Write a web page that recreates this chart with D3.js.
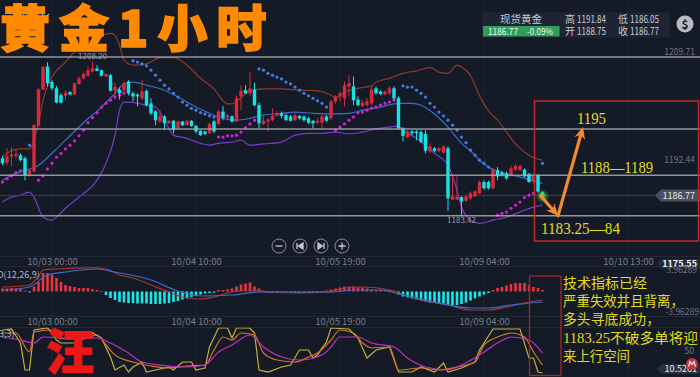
<!DOCTYPE html>
<html><head><meta charset="utf-8">
<script src="https://cdn.jsdelivr.net/npm/d3@7"></script>
<style>html,body{margin:0;padding:0;background:#151a27;}svg{display:block}</style>
</head><body><svg id="c" width="700" height="377"></svg>
<script>
// ---------- DATA ----------
const openP  = [1192.7,1192.0,1193.0,1193.1,1193.2,1192.7,1189.9,1190.6,1197.9,1203.7,1207.4,1204.9,1203.9,1202.8,1202.7,1203.3,1202.9,1204.6,1205.5,1205.9,1206.6,1207.1,1206.8,1205.8,1206.0,1203.5,1203.7,1203.6,1205.0,1203.1,1202.9,1202.3,1203.5,1201.5,1200.2,1198.6,1199.4,1198.3,1198.7,1197.5,1198.6,1198.0,1198.7,1197.9,1197.1,1197.0,1196.7,1198.6,1198.2,1200.2,1199.2,1199.4,1198.6,1202.6,1203.6,1203.1,1203.7,1201.2,1198.2,1198.6,1198.8,1199.5,1199.9,1199.6,1199.4,1198.8,1199.5,1199.4,1199.1,1198.7,1198.4,1198.4,1199.4,1199.1,1201.8,1202.6,1202.3,1204.2,1204.2,1202.1,1201.1,1201.2,1201.5,1203.9,1203.4,1202.9,1203.1,1203.9,1202.3,1197.5,1196.1,1197.0,1197.0,1196.9,1196.6,1193.8,1194.3,1193.9,1193.6,1194.3,1186.1,1186.1,1186.5,1185.9,1186.3,1186.6,1187.1,1188.9,1188.9,1187.9,1190.8,1190.4,1190.3,1190.0,1190.9,1190.8,1190.9,1190.2,1188.9,1190.0,1187.3];
const highP  = [1193.1,1194.3,1194.5,1194.1,1193.5,1193.0,1191.0,1198.2,1203.9,1207.5,1208.1,1205.2,1204.3,1203.1,1203.6,1203.4,1204.8,1205.8,1206.4,1207.4,1208.2,1207.6,1206.9,1206.3,1206.2,1204.8,1204.1,1205.0,1205.2,1203.4,1203.1,1205.2,1203.7,1202.3,1200.4,1200.4,1199.6,1198.9,1198.8,1198.7,1198.7,1198.8,1198.8,1198.0,1197.2,1197.1,1198.4,1198.8,1200.4,1201.1,1199.8,1199.6,1202.7,1204.4,1204.4,1206.6,1204.8,1201.6,1199.4,1199.1,1200.7,1200.2,1200.2,1199.9,1199.6,1199.9,1199.6,1199.5,1199.3,1198.8,1199.1,1199.6,1199.6,1202.0,1202.8,1203.4,1205.0,1206.0,1205.8,1202.6,1202.0,1202.3,1204.1,1204.2,1203.6,1203.6,1204.2,1204.2,1202.6,1197.7,1197.2,1197.2,1197.2,1197.2,1197.2,1195.1,1194.5,1194.5,1194.8,1194.6,1189.8,1189.8,1186.6,1186.8,1187.4,1187.6,1189.2,1189.2,1189.1,1191.1,1191.3,1190.7,1190.6,1191.6,1191.8,1191.6,1191.1,1190.4,1190.3,1190.2,1187.5];
const lowP   = [1191.6,1191.6,1191.4,1192.7,1192.2,1189.2,1189.7,1190.4,1197.8,1203.6,1204.2,1203.6,1201.5,1201.5,1202.1,1202.8,1202.8,1204.5,1205.4,1205.8,1206.4,1206.6,1205.8,1205.7,1203.4,1202.6,1202.1,1203.1,1202.8,1201.8,1201.0,1202.0,1201.0,1199.6,1198.0,1198.3,1197.2,1198.2,1196.7,1197.3,1197.8,1197.9,1197.7,1196.7,1196.3,1196.4,1196.6,1196.7,1198.0,1198.8,1199.0,1198.4,1198.5,1200.4,1203.0,1202.6,1201.0,1197.5,1198.0,1197.0,1198.6,1199.4,1199.1,1198.7,1198.6,1198.7,1198.9,1198.6,1198.2,1197.5,1198.2,1197.5,1198.6,1198.8,1201.5,1201.8,1201.0,1202.6,1201.2,1201.0,1200.9,1201.0,1201.2,1202.9,1202.8,1202.8,1202.8,1202.1,1197.3,1195.4,1195.9,1196.4,1195.6,1195.1,1193.5,1193.5,1193.7,1193.7,1193.5,1184.3,1186.0,1186.0,1183.42,1185.7,1186.1,1186.5,1187.0,1187.7,1187.7,1187.7,1189.2,1189.8,1189.3,1189.8,1190.6,1190.7,1189.7,1188.8,1188.7,1187.2,1186.05];
const closeP = [1191.9,1193.0,1193.3,1193.4,1192.4,1190.0,1190.8,1198.0,1203.7,1207.3,1204.7,1203.9,1201.6,1201.6,1203.2,1202.9,1204.7,1205.5,1206.2,1206.8,1207.1,1206.7,1205.9,1206.2,1203.5,1204.1,1203.1,1204.7,1203.1,1202.6,1202.6,1203.4,1201.2,1199.9,1198.8,1199.4,1198.3,1198.7,1197.2,1198.6,1198.0,1198.7,1197.9,1197.0,1196.4,1196.6,1198.2,1197.0,1200.2,1199.2,1199.6,1198.6,1202.3,1203.5,1203.1,1203.9,1201.2,1198.3,1198.7,1198.9,1199.5,1199.9,1199.5,1198.8,1198.7,1199.6,1199.1,1198.8,1198.4,1198.3,1198.7,1199.4,1198.7,1201.8,1202.6,1203.1,1204.4,1204.7,1202.0,1201.2,1201.6,1201.8,1203.7,1203.1,1203.0,1203.4,1203.9,1202.3,1197.5,1196.3,1197.0,1196.7,1196.7,1195.3,1193.9,1194.6,1193.9,1194.3,1194.6,1186.3,1186.6,1186.6,1185.8,1186.6,1187.1,1187.4,1188.9,1187.9,1187.9,1190.9,1189.8,1190.0,1189.5,1191.1,1191.5,1191.5,1189.8,1188.9,1190.0,1187.4,1186.77];
const sarP   = [1188.9,1189.4,1189.9,1190.4,1190.7,1191.1,1194.8,1194.7,1189.2,1189.9,1191.0,1191.9,1192.9,1193.5,1194.2,1194.8,1195.5,1196.3,1197.2,1198.4,1199.2,1200.0,1200.9,1201.5,1202.0,1202.5,1202.8,1203.1,1203.3,1208.3,1208.1,1207.8,1207.5,1206.8,1206.0,1205.2,1204.4,1203.8,1203.1,1202.5,1201.7,1201.2,1200.7,1200.4,1200.0,1199.8,1199.5,1199.3,1196.1,1196.1,1196.3,1196.3,1196.4,1196.9,1197.6,1198.2,1198.8,1207.0,1206.8,1206.3,1206.0,1205.7,1205.4,1204.9,1204.6,1204.1,1203.6,1203.1,1202.7,1202.3,1201.9,1201.5,1200.9,1200.6,1197.2,1197.7,1198.2,1198.8,1199.3,1200.0,1200.1,1200.4,1200.7,1200.9,1201.2,1201.5,1201.7,1202.0,1202.2,1204.3,1204.1,1204.1,1203.6,1203.1,1202.5,1201.5,1200.9,1200.1,1199.5,1198.8,1198.0,1197.2,1196.1,1195.2,1194.0,1193.2,1192.4,1191.9,1191.3,1190.8,1183.6,1183.9,1184.1,1184.7,1185.2,1185.7,1186.4,1186.8,1187.1,1187.6,1191.9];

const upperIdx = [0,1,4,6,7,8,9,11,14,16,18,21,24,25,26,27,29,32,35,38,41,44,47,50,51,53,55,58,62,66,70,73,74,76,79,82,83,86,89,92,95,97,99,101,102,104,105,106,108,110,112,114,116,118,120];
const upperVal = [1192.8,1193.5,1194.2,1194.2,1195.6,1198.4,1202.0,1205.7,1208.1,1209.7,1210.8,1212.1,1212.7,1212.4,1210.8,1208.4,1207.6,1207.8,1208.8,1208.8,1207.6,1205.5,1203.8,1201.4,1201.4,1202.4,1203.5,1203.8,1203.8,1203.6,1203.5,1202.8,1202.4,1203.3,1203.9,1204.3,1204.9,1205.5,1206.3,1206.7,1207.2,1206.5,1206.3,1207.6,1207.3,1205.9,1204.4,1202.7,1200.3,1198.8,1196.9,1195.0,1193.7,1192.8,1192.4];
const midIdx = [0,2,6,8,11,14,18,22,25,27,29,32,36,39,43,46,49,52,55,58,62,65,69,73,77,80,84,88,91,93,96,99,102,104,106,108,111,115,119,120];
const midVal = [1189.2,1190.0,1191.0,1191.6,1193.5,1195.6,1198.4,1200.9,1203.1,1204.6,1204.9,1204.4,1203.6,1202.5,1200.9,1199.9,1199.1,1198.8,1199.1,1199.6,1199.9,1200.1,1199.9,1199.8,1199.9,1200.4,1200.9,1201.5,1201.5,1201.2,1199.8,1197.7,1195.1,1193.9,1192.4,1191.3,1190.4,1189.7,1188.9,1188.7];
const lowIdx = [0,2,4,6,7,9,11,12,14,17,21,23,25,26,27,28,32,34,36,38,41,44,46,48,51,53,55,58,62,65,68,71,74,77,80,83,86,88,89,92,94,96,99,101,102,104,106,109,112,115,118,120];
const lowVal = [1185.7,1186.5,1186.8,1187.3,1186.5,1183.3,1182.8,1183.3,1184.7,1186.5,1189.2,1191.9,1196.4,1200.4,1201.7,1201.7,1201.2,1200.9,1198.8,1196.4,1195.9,1195.1,1194.8,1195.1,1195.3,1195.6,1194.8,1195.0,1195.3,1196.4,1196.7,1196.7,1196.9,1196.6,1196.9,1197.4,1197.7,1197.9,1197.2,1195.9,1194.8,1193.5,1191.6,1187.6,1184.9,1182.8,1182.3,1182.8,1183.3,1184.1,1184.9,1185.2];

const macdHist = [0.58,0.58,0.68,0.58,0.48,0.19,-0.19,0.97,1.84,3.58,3.58,3.19,2.61,1.84,1.26,1.06,0.87,0.68,0.68,0.68,0.48,0.29,0.10,-0.68,-1.26,-1.64,-2.03,-2.13,-2.22,-2.22,-2.32,-2.32,-2.32,-2.42,-2.42,-2.42,-2.32,-2.22,-2.03,-1.84,-1.55,-1.35,-1.06,-0.77,-0.58,-0.39,-0.29,-0.19,0.29,0.29,0.39,0.58,0.97,1.35,1.55,1.74,0.97,0.58,0.19,-0.19,-0.19,-0.19,-0.10,-0.10,-0.19,-0.19,-0.19,-0.19,-0.19,-0.10,-0.10,0.10,0.19,0.39,0.58,0.77,0.97,0.97,0.97,0.77,0.77,0.58,0.39,0.29,0.29,0.29,0.29,0.19,-0.58,-0.97,-1.16,-1.35,-1.55,-1.74,-1.93,-2.13,-2.13,-2.32,-2.51,-2.61,-2.61,-2.61,-2.42,-2.13,-1.74,-1.35,-0.97,-0.58,-0.29,0.29,0.68,0.87,1.16,1.45,1.64,1.64,1.64,1.26,0.87,0.68,0.29];
const difIdx = [0,6,8,9,12,20,23,26,29,33,37,40,44,47,51,55,59,66,72,76,80,86,90,93,99,104,108,112,117,120];
const difVal = [0.87,1.26,3.00,4.16,4.35,4.55,4.35,3.19,2.61,1.26,-0.10,-1.06,-1.45,-1.06,-0.10,0.29,-0.10,-0.29,-0.10,0.68,0.87,0.29,-0.87,-1.64,-2.61,-3.58,-3.58,-3.00,-2.03,-1.64];
const deaIdx = [0,6,10,14,21,25,33,39,44,51,57,66,73,78,84,89,97,104,108,113,120];
const deaVal = [0.29,0.87,3.19,3.77,4.35,3.77,2.22,0.10,-0.87,-0.68,-0.10,-0.10,-0.10,0.29,0.29,-0.68,-2.22,-3.19,-3.19,-2.61,-2.03];

const kIdx = [0,3,6,7,11,12,14,18,21,23,25,29,33,37,41,45,47,49,51,53,56,58,61,65,68,70,73,75,78,80,82,86,88,93,97,101,105,107,110,113,116,118,120];
const kVal = [88.9,88.9,46.7,91.1,95.6,80.0,75.6,75.6,84.4,62.2,40.0,24.4,15.6,11.1,15.6,17.8,51.1,80.0,73.3,88.9,84.4,44.4,28.9,24.4,35.6,44.4,73.3,95.6,88.9,66.7,55.6,57.8,6.7,11.1,6.7,13.3,24.4,62.2,80.0,88.9,80.0,46.7,17.8];
const dIdx = [0,4,7,9,14,21,24,28,31,37,41,45,48,51,55,58,62,66,71,73,75,79,82,87,90,94,99,102,106,110,113,117,120];
const dVal = [80.0,73.3,66.7,80.0,77.8,77.8,66.7,44.4,24.4,15.6,13.3,17.8,46.7,62.2,84.4,57.8,35.6,28.9,40.0,57.8,80.0,80.0,66.7,57.8,33.3,13.3,6.7,17.8,40.0,66.7,80.0,73.3,44.4];
const jIdx = [0,2,4,5,6,7,10,11,12,13,16,18,20,22,24,25,27,28,29,31,32,34,37,38,40,42,43,45,46,48,50,51,52,55,56,57,59,62,64,66,68,69,70,71,72,73,77,79,81,83,86,88,91,93,96,98,99,102,105,106,109,115,117,118,119,120];
const jVal = [95.6,97.8,66.7,6.7,6.7,95.6,100,88.9,73.3,66.7,66.7,77.8,88.9,77.8,35.6,6.7,17.8,2.2,13.3,24.4,2.2,6.7,13.3,6.7,24.4,24.4,6.7,11.1,57.8,100,100,77.8,100,100,88.9,6.7,2.2,13.3,17.8,51.1,51.1,33.3,40.0,55.6,68.9,100,97.8,77.8,33.3,51.1,57.8,2.2,2.2,13.3,2.2,22.2,2.2,11.1,24.4,51.1,97.8,97.8,33.3,33.3,2.2,0];

const tickIdx = [11,43,75,107,139];
const tickLabels = ["10/03 00:00","10/04 10:00","10/05 19:00","10/09 04:00","10/10 13:00"];
const levelLines = [1208.9,1197.4,1190.0,1183.5];
const targetPrices = {down:1183.5, up:1197.7};
const title = "黄金1小时";
const author = "汪";
const noteLabels = ["1195","1188—1189","1183.25—84"];
const noteLines = ["技术指标已经","严重失效并且背离，","多头寻底成功，","1183.25不破多单将迎","来上行空间"];
const quote = {name:"现货黄金", last:"1186.77", chg:"-0.09%", high:"1191.84", low:"1186.05", open:"1188.75", close:"1186.77"};
const axisPrices = {top:1209.71, mid:1192.44, bottom:1175.55, last:1186.77, lowMark:1183.42};
const macdRange = 3.96289, kdjLast = "10.5261";

// ---------- SCALES ----------
const svg = d3.select('#c');
const N = closeP.length;
const x = d3.scaleLinear().domain([0,120]).range([2.5,542.5]);
const y = d3.scaleLinear().domain([1175.55,1209.71]).range([265.5,52]);
const yM = d3.scaleLinear().domain([-macdRange,macdRange]).range([312,271]);
const yK = d3.scaleLinear().domain([0,100]).range([373,328]);
const UP='#d8293e', DN='#14e4e6';
const SANS = "'Noto Sans CJK SC','Noto Sans',sans-serif";
const SERIF = "'Liberation Serif','DejaVu Serif','Noto Sans CJK SC',serif";

svg.append('rect').attr('width',700).attr('height',377).attr('fill','#151a27');
const defs = svg.append('defs');
[['cm',0,0,700,256],['cmacd',0,266,700,50],['ckdj',0,327.5,700,50]].forEach(c=>{
  defs.append('clipPath').attr('id',c[0]).append('rect').attr('x',c[1]).attr('y',c[2]).attr('width',c[3]).attr('height',c[4]);
});
const glow = defs.append('radialGradient').attr('id','glow');
glow.append('stop').attr('offset','0%').attr('stop-color','#5dff7a').attr('stop-opacity',0.8);
glow.append('stop').attr('offset','100%').attr('stop-color','#2bd04a').attr('stop-opacity',0);

// grid
const grid = svg.append('g');
tickIdx.forEach(t=>{
  grid.append('line').attr('x1',x(t)).attr('x2',x(t)).attr('y1',0).attr('y2',377).attr('stroke','#1f2433').attr('stroke-width',1);
});
[256,266,316,327].forEach(v=>grid.append('line').attr('x1',0).attr('x2',700).attr('y1',v+0.5).attr('y2',v+0.5).attr('stroke','#232838'));

// info panel
const info = svg.append('g').style('font-family',SANS);
info.append('rect').attr('x',482).attr('y',12.5).attr('width',188).attr('height',25).attr('fill','#1e2432');
info.append('text').attr('x',521).attr('y',22.5).attr('text-anchor','middle').attr('fill','#c6cad3').attr('font-size',10.5).text(quote.name);
info.append('rect').attr('x',483).attr('y',26).attr('width',76.5).attr('height',10.5).attr('fill','#2f9e5c');
info.append('text').attr('x',488).attr('y',34.8).attr('fill','#eef5ef').attr('font-size',9.5).attr('textLength',30).attr('lengthAdjust','spacingAndGlyphs').text(quote.last);
info.append('text').attr('x',527).attr('y',34.8).attr('fill','#eef5ef').attr('font-size',9.5).attr('textLength',26).attr('lengthAdjust','spacingAndGlyphs').text(quote.chg);
[['高',quote.high,565,23],['开',quote.open,565,35],['低',quote.low,618,23],['收',quote.close,618,35]].forEach(a=>{
  info.append('text').attr('x',a[2]).attr('y',a[3]).attr('fill','#c6cad3').attr('font-size',10).text(a[0]);
  info.append('text').attr('x',a[2]+12).attr('y',a[3]).attr('fill','#c6cad3').attr('font-size',10).attr('textLength',29).attr('lengthAdjust','spacingAndGlyphs').text(a[1]);
});
info.append('circle').attr('cx',685).attr('cy',24).attr('r',8.5).attr('fill','#b8bbc3');
info.append('text').attr('x',685).attr('y',28.5).attr('text-anchor','middle').attr('fill','#1b2030').attr('font-size',12).attr('font-weight','bold').text('$');
svg.append('text').attr('x',12).attr('y',20).attr('fill','#c6cad3').attr('font-size',11).style('font-family',SANS).text('1小时');
svg.append('path').attr('d','M42,14 l3.5,3.5 l3.5,-3.5').attr('fill','none').attr('stroke','#aab0bb').attr('stroke-width',1.2);

// ---------- MAIN PANE ----------
const main = svg.append('g').attr('clip-path','url(#cm)');
const lineGen = (ys, curve)=>d3.line().x(d=>x(d[0])).y(d=>ys(d[1])).curve(curve||d3.curveMonotoneX);
const band = (idx,val,color)=>main.append('path').attr('d',lineGen(y)(idx.map((k,i)=>[k,val[i]]))).attr('fill','none').attr('stroke',color).attr('stroke-width',1.2);
band(upperIdx,upperVal,'#8e3a2c');
band(midIdx,midVal,'#3a6ccc');
band(lowIdx,lowVal,'#7a3cc6');

main.append('line').attr('x1',0).attr('x2',656).attr('y1',y(axisPrices.last)).attr('y2',y(axisPrices.last)).attr('stroke','#3a404f').attr('stroke-width',1);

main.selectAll('circle.sar').data(sarP).join('circle').attr('class','sar')
  .attr('cx',(d,i)=>x(i)).attr('cy',d=>y(d)).attr('r',1.6)
  .attr('fill',(d,i)=> d > (highP[i]+lowP[i])/2 ? '#3f7de0' : '#d41fd6');

const cg = main.append('g');
d3.range(N).forEach(i=>{
  const o=openP[i], c=closeP[i];
  const col = i===N-1 ? '#3ed46c' : (c>=o ? UP : DN);
  if(i===N-1) cg.append('circle').attr('cx',x(i)).attr('cy',y(c)+1).attr('r',7).attr('fill','url(#glow)');
  cg.append('line').attr('x1',x(i)).attr('x2',x(i)).attr('y1',y(highP[i])).attr('y2',y(lowP[i])).attr('stroke',col).attr('stroke-width',1);
  const top=y(Math.max(o,c)), bot=y(Math.min(o,c));
  cg.append('rect').attr('x',x(i)-1.7).attr('width',3.4).attr('y',top).attr('height',Math.max(1,bot-top)).attr('fill',col);
});

levelLines.forEach(p=>svg.append('line').attr('x1',0).attr('x2',700).attr('y1',y(p)).attr('y2',y(p))
  .attr('stroke','#a9abb1').attr('stroke-width',1.6).attr('opacity',0.85));

svg.append('text').attr('x',x(102)).attr('y',y(axisPrices.lowMark)+7).attr('text-anchor','middle').attr('fill','#9a9ea8').attr('font-size',8).style('font-family',SANS).text(axisPrices.lowMark.toFixed(2));
const hiIdx = d3.maxIndex(highP);
svg.append('text').attr('x',x(hiIdx)).attr('y',y(highP[hiIdx])-2).attr('text-anchor','middle').attr('fill','#9a9ea8').attr('font-size',8).style('font-family',SANS).text(d3.max(highP).toFixed(2));

const rl = svg.append('g').style('font-family',SANS);
rl.append('text').attr('x',695).attr('y',y(axisPrices.top)+3).attr('text-anchor','end').attr('fill','#6f7482').attr('font-size',8.5).text(axisPrices.top.toFixed(2));
rl.append('text').attr('x',695).attr('y',y(axisPrices.mid)+3).attr('text-anchor','end').attr('fill','#6f7482').attr('font-size',8.5).text(axisPrices.mid.toFixed(2));
const ly = y(axisPrices.last);
rl.append('path').attr('d',`M655,${ly} L661,${ly-6} L700,${ly-6} L700,${ly+6} L661,${ly+6} Z`).attr('fill','#4a505e');
rl.append('text').attr('x',695).attr('y',ly+3.2).attr('text-anchor','end').attr('fill','#e6e8ec').attr('font-size',9).text(axisPrices.last.toFixed(2));

const zb = svg.append('g');
[279,300,321,342].forEach((cx,i)=>{
  zb.append('circle').attr('cx',cx).attr('cy',246).attr('r',7).attr('fill','#171c29').attr('stroke','#8b8f99').attr('stroke-width',1);
  const p = ['M-3.5,0 H3.5','M-3,-3 V3 M3,-3 L-1.5,0 L3,3 Z','M3,-3 V3 M-3,-3 L1.5,0 L-3,3 Z','M-3.5,0 H3.5 M0,-3.5 V3.5'][i];
  zb.append('path').attr('transform',`translate(${cx},246)`).attr('d',p).attr('stroke','#c3c7cf').attr('stroke-width',1.3).attr('fill','#c3c7cf');
});

function timeAxis(yPos, n){
  const g = svg.append('g').attr('transform',`translate(0,${yPos})`)
    .call(d3.axisBottom(x).tickValues(tickIdx.slice(0,n)).tickFormat((d,i)=>tickLabels[i]).tickSize(0).tickPadding(4));
  g.select('.domain').remove();
  g.selectAll('text').attr('fill','#7b808d').attr('font-size',9.5).style('font-family',SANS);
}
timeAxis(254.5, 5);
timeAxis(314.5, 4);
rl.append('path').attr('d','M657,264 L662,259 L700,259 L700,269 L662,269 Z').attr('fill','#262b39');
rl.append('text').attr('x',697).attr('y',267.3).attr('text-anchor','end').attr('fill','#f2f3f5').attr('font-size',9).attr('font-weight','bold').text(axisPrices.bottom.toFixed(2));

// ---------- MACD PANE ----------
const mg = svg.append('g').attr('clip-path','url(#cmacd)');
mg.selectAll('rect').data(macdHist).join('rect')
  .attr('x',(d,i)=>x(i)-1.3).attr('width',2.6)
  .attr('y',d=>Math.min(yM(d),yM(0))).attr('height',d=>Math.max(0.8,Math.abs(yM(d)-yM(0))))
  .attr('fill',d=>d>=0?'#e8363f':'#18e6e8');
mg.append('path').attr('d',lineGen(yM)(difIdx.map((k,i)=>[k,difVal[i]]))).attr('fill','none').attr('stroke','#a33b2e').attr('stroke-width',1.2);
mg.append('path').attr('d',lineGen(yM)(deaIdx.map((k,i)=>[k,deaVal[i]]))).attr('fill','none').attr('stroke','#3b6bd2').attr('stroke-width',1.2);
svg.append('text').attr('x',-21).attr('y',278).attr('fill','#b3b7c0').attr('font-size',9).style('font-family',SANS).text('MACD(12,26,9)');
rl.append('text').attr('x',697).attr('y',yM(macdRange)+2).attr('text-anchor','end').attr('fill','#6f7482').attr('font-size',8.5).text(macdRange.toFixed(5));
rl.append('text').attr('x',699).attr('y',yM(-macdRange)+3).attr('text-anchor','end').attr('fill','#6f7482').attr('font-size',8.5).text((-macdRange).toFixed(5));

// ---------- KDJ PANE ----------
const kg = svg.append('g').attr('clip-path','url(#ckdj)');
kg.append('path').attr('d',lineGen(yK,d3.curveLinear)(jIdx.map((k,i)=>[k,jVal[i]]))).attr('fill','none').attr('stroke','#c9b233').attr('stroke-width',1.2);
kg.append('path').attr('d',lineGen(yK)(kIdx.map((k,i)=>[k,kVal[i]]))).attr('fill','none').attr('stroke','#d4762a').attr('stroke-width',1.2);
kg.append('path').attr('d',lineGen(yK)(dIdx.map((k,i)=>[k,dVal[i]]))).attr('fill','none').attr('stroke','#c42ec6').attr('stroke-width',1.2);
svg.append('text').attr('x',-28).attr('y',337).attr('fill','#b3b7c0').attr('font-size',9).style('font-family',SANS).text('KDJ(9,3,3)');
rl.append('text').attr('x',694).attr('y',yK(50)+3).attr('text-anchor','end').attr('fill','#6f7482').attr('font-size',8.5).text('50');
rl.append('path').attr('d','M657,369 L662,364 L700,364 L700,374 L662,374 Z').attr('fill','#2a2f3c');
rl.append('text').attr('x',697).attr('y',372.3).attr('text-anchor','end').attr('fill','#eef0f3').attr('font-size',9).text(kdjLast);
rl.append('circle').attr('cx',692).attr('cy',364).attr('r',6).attr('fill','#c9303a');
rl.append('path').attr('d','M688.5,366.5 L690,361.5 L692,364.5 L694,361.5 L695.5,366.5').attr('fill','none').attr('stroke','#fff').attr('stroke-width',1.1);

// ---------- ANNOTATIONS ----------
svg.append('rect').attr('x',534.5).attr('y',101).attr('width',164).attr('height',140).attr('fill','none').attr('stroke','#c0282c').attr('stroke-width',1.5);
svg.append('rect').attr('x',529.5).attr('y',276).attr('width',31.5).attr('height',99.5).attr('fill','none').attr('stroke','#a92328').attr('stroke-width',1.3);

function arrow(p,q,color){
  const dx=q[0]-p[0], dy=q[1]-p[1], L=Math.hypot(dx,dy), ux=dx/L, uy=dy/L, nx=-uy, ny=ux;
  const hl=12, hw=5.5;
  const bx=q[0]-ux*hl, by=q[1]-uy*hl;
  svg.append('line').attr('x1',p[0]).attr('y1',p[1]).attr('x2',q[0]-ux*7).attr('y2',q[1]-uy*7).attr('stroke',color).attr('stroke-width',3.2).attr('stroke-linecap','round');
  svg.append('path').attr('d',`M${q[0]},${q[1]} L${bx+nx*hw},${by+ny*hw} L${q[0]-ux*8},${q[1]-uy*8} L${bx-nx*hw},${by-ny*hw} Z`).attr('fill',color);
}
const pStart=[x(N-1)-2, y(closeP[N-2])+4], pLow=[558, y(targetPrices.down)], pHigh=[583, y(targetPrices.up)];
arrow(pStart,pLow,'#f38b2d');
arrow(pLow,pHigh,'#f38b2d');

const nt = svg.append('g').style('font-family',SERIF).attr('fill','#e2dc19');
[[noteLabels[0],577,124,29],[noteLabels[1],581,173,72],[noteLabels[2],541,234,79]].forEach(a=>{
  nt.append('text').attr('x',a[1]).attr('y',a[2]).attr('font-size',17).attr('textLength',a[3]).attr('lengthAdjust','spacingAndGlyphs').text(a[0]);
});
const noteW = [84,121,97,135,67];
noteLines.forEach((t,i)=>nt.append('text').attr('x',563).attr('y',288+i*18.2).attr('font-size',14)
  .attr('textLength',noteW[i]).attr('lengthAdjust','spacingAndGlyphs').text(t));

svg.append('text').attr('x',0).attr('y',47).attr('fill','#ff8a00').attr('stroke','#ff8a00').attr('stroke-width',1.5)
  .attr('font-size',50).attr('font-weight',900).attr('letter-spacing',9).style('font-family',SANS).text(title);
svg.append('text').attr('x',46).attr('y',369).attr('fill','#ee1616').attr('stroke','#ee1616').attr('stroke-width',1)
  .attr('font-size',48).attr('font-weight',900).style('font-family',SANS).text(author);
</script></body></html>
